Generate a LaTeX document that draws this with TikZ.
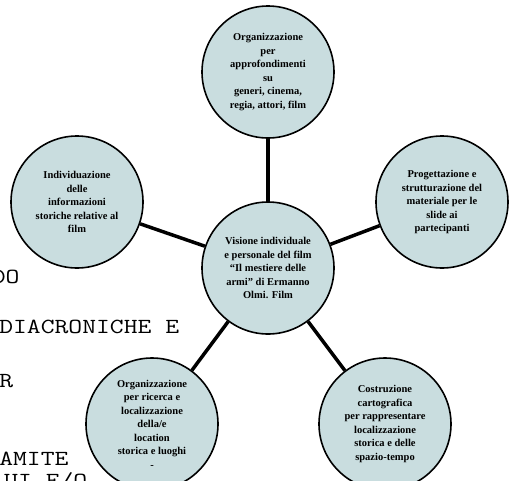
\documentclass[tikz,border=0pt]{standalone}
\usepackage{fontspec}
\setmainfont{Liberation Serif}
\usetikzlibrary{positioning}
\definecolor{bubblefill}{RGB}{201,221,223}

\begin{document}
\begin{tikzpicture}[x=1pt,y=-1pt,
  bubble/.style={circle,draw=black,line width=1.6pt,fill=bubblefill,minimum size=132pt,inner sep=0pt,
    align=center,font=\bfseries\fontsize{10.5}{13.5}\selectfont},
  bgtext/.style={anchor=base west,inner sep=0pt,xscale=1.25,transform shape,
    font=\ttfamily\fontsize{21.5}{22}\selectfont},
  link/.style={line width=3.5pt}]
\useasboundingbox (0,0) rectangle (514,480);
% text of the page behind the map
\node[bgtext] (t1) at (-8.4,283) {DO};
\node[bgtext] (t2) at (-1,333) {DIACRONICHE E};
\node[bgtext] (t3) at (-1,387) {R};
\node[bgtext] (t4) at (-1,465) {AMITE};
\node[bgtext] (t5) at (4,487) {UI E/O};
% the map
\node[bubble] (hub) at (268,268) {Visione individuale\\e personale del film\\``Il mestiere delle\\armi'' di Ermanno\\Olmi. Film};
\node[bubble] (top) at (268,72) {Organizzazione\\per\\approfondimenti\\su\\generi, cinema,\\regia, attori, film};
\node[bubble] (right) at (442,202) {Progettazione e\\strutturazione del\\materiale per le\\slide ai\\partecipanti};
\node[bubble] (left) at (77,202) {Individuazione\\delle\\informazioni\\storiche relative al\\film};
\node[bubble] (botleft) at (152,424) {Organizzazione\\per ricerca e\\localizzazione\\della/e\\location\\storica e luoghi\\-};
\node[bubble] (botright) at (385,424) {Costruzione\\cartografica\\per rappresentare\\localizzazione\\storica e delle\\spazio-tempo};
\draw[link] (hub) -- (top);
\draw[link] (hub) -- (right);
\draw[link] (hub) -- (left);
\draw[link] (hub) -- (botleft);
\draw[link] (hub) -- (botright);
\end{tikzpicture}
\end{document}
